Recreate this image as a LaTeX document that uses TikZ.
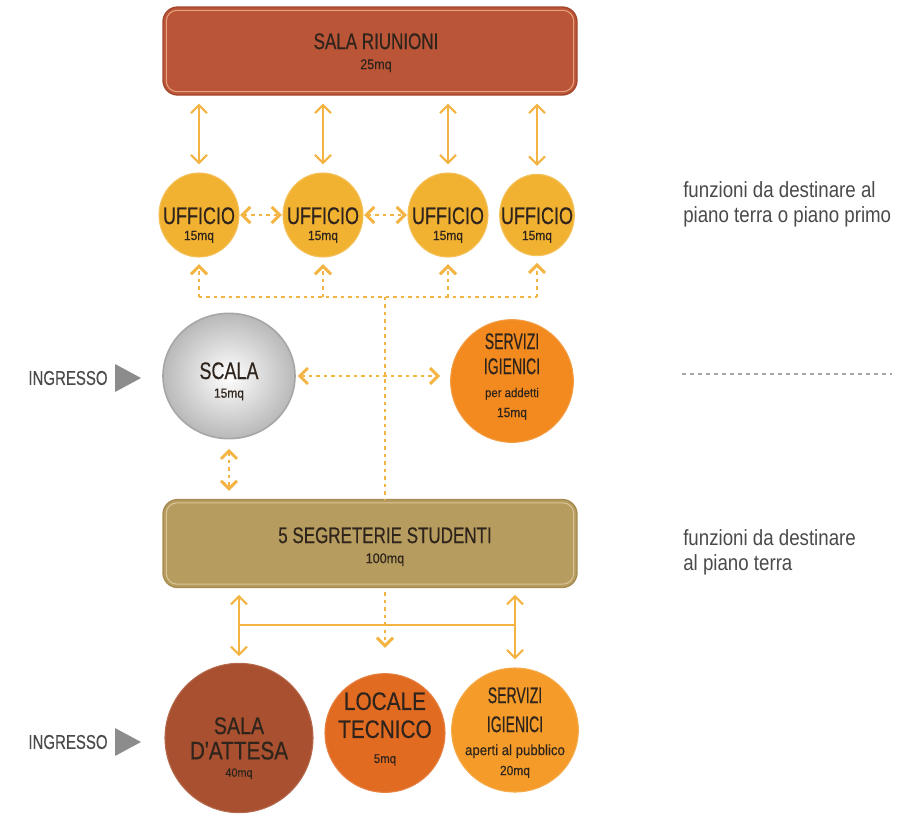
\documentclass[tikz,border=0pt]{standalone}
\usepackage{fontspec}
\setmainfont{Liberation Sans}
\newfontfamily\cond[FakeStretch=0.75,FakeBold=0.35]{Liberation Sans}
\newfontfamily\xcond[FakeStretch=0.62,FakeBold=0.4]{Liberation Sans}
\newfontfamily\condB[FakeStretch=0.82,FakeBold=0.35]{Liberation Sans}
\newfontfamily\smf[FakeStretch=0.9,FakeBold=0.25]{Liberation Sans}
\newfontfamily\sidef[FakeStretch=0.85]{Liberation Sans}
\usetikzlibrary{shapes.geometric,arrows.meta}
\definecolor{riun}{HTML}{BA5538}
\definecolor{riund}{HTML}{A4472D}
\definecolor{riunl}{HTML}{E9A27F}
\definecolor{segr}{HTML}{B69C5F}
\definecolor{segrd}{HTML}{A68B50}
\definecolor{segrl}{HTML}{D8C496}
\definecolor{uff}{HTML}{F1B232}
\definecolor{arr}{HTML}{F3B443}
\definecolor{servA}{HTML}{F28A1F}
\definecolor{attesa}{HTML}{A8502F}
\definecolor{tecn}{HTML}{E26B22}
\definecolor{servP}{HTML}{F49B2A}
\definecolor{ink}{HTML}{2E241C}
\definecolor{sidetxt}{HTML}{4A4A4A}
\definecolor{tri}{HTML}{8C8C8C}
\newcommand\fA[1]{\cond\fontsize{#1}{0pt}\selectfont}
\newcommand\fX[1]{\xcond\fontsize{#1}{0pt}\selectfont}
\newcommand\fB[1]{\condB\fontsize{#1}{0pt}\selectfont}
\newcommand\fS[1]{\smf\fontsize{#1}{0pt}\selectfont}
\begin{document}
\lineskiplimit=-1000pt\lineskip=0pt
\begin{tikzpicture}[x=0.75pt,y=-0.75pt,
  >={Straight Barb[length=6pt,width=12pt]},
  bigbox/.style={rectangle, rounded corners=11pt, minimum width=310.5pt, minimum height=66pt,
    inner sep=0pt, line width=1pt},
  room/.style={ellipse, inner sep=0pt, line width=0.8pt},
  lbl/.style={align=center, text=ink, inner sep=0pt, anchor=north, font=\fontsize{10}{0pt}\selectfont},
  solidarr/.style={draw=arr, line width=1.6pt, <->},
  solidline/.style={draw=arr, line width=1.6pt},
  dotline/.style={draw=arr, line width=2.2pt, dash pattern=on 2.6pt off 3pt},
  dotarr/.style={dotline, <->},
  dotup/.style={dotline, ->},
  ingr/.style={text=sidetxt, font=\fA{15}},
  sidenote/.style={text=sidetxt, align=left, anchor=north west, inner sep=0pt,
    font=\sidef\fontsize{16.5}{0pt}\selectfont},
  trishape/.style={fill=tri, draw=none}
]
\useasboundingbox (0,0) rectangle (900,815);

% ---------- top box
\node[bigbox, fill=riun, draw=riund] (sr) at (370,51) {};
\draw[riunl, line width=0.8pt, rounded corners=8pt]
  ([xshift=3pt,yshift=-3pt]sr.north west) rectangle ([xshift=-3pt,yshift=3pt]sr.south east);
\node[lbl] (srt) at (376,33) {\fA{17}SALA RIUNIONI\\[15pt]\fS{10.5}25mq};

% ---------- offices
\node[room, fill=uff, draw=uff!80!white, minimum width=60pt, minimum height=63pt] (u1) at (199,215) {};
\node[room, fill=uff, draw=uff!80!white, minimum width=60pt, minimum height=63pt] (u2) at (323,215) {};
\node[room, fill=uff, draw=uff!80!white, minimum width=60pt, minimum height=63pt] (u3) at (448,215) {};
\node[room, fill=uff, draw=uff!80!white, minimum width=56pt, minimum height=61pt] (u4) at (537,215) {};
\node[lbl] (u1t) at (199,207) {\fA{18}UFFICIO\\[12pt]\fS{10}15mq};
\node[lbl] (u2t) at (323,207) {\fA{18}UFFICIO\\[12pt]\fS{10}15mq};
\node[lbl] (u3t) at (448,207) {\fA{18}UFFICIO\\[12pt]\fS{10}15mq};
\node[lbl] (u4t) at (537,207) {\fA{18}UFFICIO\\[12pt]\fS{10}15mq};

\foreach \u in {u1,u2,u3,u4}
  \draw[solidarr, shorten <=6pt, shorten >=6pt] (sr.south -| \u) -- (\u.north);

\draw[dotarr, shorten <=0.5pt, shorten >=0.5pt] (u1.east) -- (u2.west);
\draw[dotarr, shorten <=0.5pt, shorten >=0.5pt] (u2.east) -- (u3.west);

% dotted distribution line
\coordinate (hb) at (385,297);
\draw[dotline] (hb -| u1) -- (hb -| u4);
\foreach \u in {u1,u2,u3,u4}
  \draw[dotup, shorten >=5pt] (hb -| \u) -- (\u.south);

% ---------- middle row
\shade[inner color=white, outer color=gray!55] (229,376) ellipse [x radius=66, y radius=62.5];
\node[room, draw=gray!70, line width=1.2pt, minimum width=99pt, minimum height=94pt] (sc) at (229,376) {};
\node[lbl] (sct) at (229,362) {\fA{18}SCALA\\[14pt]\fS{10}15mq};
\node[room, fill=servA, draw=servA!85!white, minimum width=92pt, minimum height=92pt] (sv) at (512,381) {};
\node[lbl] (svt) at (512,333) {\fX{17}SERVIZI\\[18.75pt]\fX{17}IGIENICI\\[17.25pt]\fS{9.5}per addetti\\[15pt]\fS{10}15mq};

\draw[dotarr, shorten <=1.5pt, shorten >=7.5pt] (sc.east) -- (sc.east -| sv.west);

\node[ingr] (in1) at (68,378) {INGRESSO};
\path[trishape] (115,364) -- (141,378) -- (115,392) -- cycle;

% ---------- segreterie
\node[bigbox, fill=segr, draw=segrd] (sg) at (370,543.5) {};
\draw[segrl, line width=0.8pt, rounded corners=8pt]
  ([xshift=3pt,yshift=-3pt]sg.north west) rectangle ([xshift=-3pt,yshift=3pt]sg.south east);
\node[lbl] (sgt) at (385,527) {\fA{17}5 SEGRETERIE STUDENTI\\[15pt]\fS{10.5}100mq};

\draw[dotline] (hb) -- (hb |- sg.north);
\draw[dotarr, shorten <=7pt, shorten >=6pt] (sc.south) -- (sc.south |- sg.north);

% ---------- bottom row
\node[room, fill=attesa, draw=attesa!85!white, minimum width=111pt, minimum height=112pt] (sa) at (239,738) {};
\node[lbl] (sat) at (239,717) {\fB{18}SALA\\[19pt]\fB{19}D'ATTESA\\[13pt]\fS{9}40mq};
\node[room, fill=tecn, draw=tecn!85!white, minimum width=90pt, minimum height=89pt] (lt) at (385,733) {};
\node[lbl] (ltt) at (385,692) {\fB{19}LOCALE\\[21pt]\fB{19}TECNICO\\[18.75pt]\fS{9.5}5mq};
\node[room, fill=servP, draw=servP!85!white, minimum width=95pt, minimum height=93pt] (sp) at (515,730) {};
\node[lbl] (spt) at (515,687) {\fX{17}SERVIZI\\[21.75pt]\fX{17}IGIENICI\\[17.25pt]\fS{11}aperti al pubblico\\[15pt]\fS{10}20mq};

\draw[solidarr, shorten <=5pt, shorten >=5pt] (sg.south -| sa) -- (sa.north);
\draw[solidarr, shorten <=5pt, shorten >=6pt] (sg.south -| sp) -- (sp.north);
\coordinate (hl) at (385,625);
\draw[solidline] (hl -| sa) -- (hl -| sp);
\draw[dotup, shorten <=3pt, shorten >=19pt] (sg.south -| lt) -- (lt.north);

\node[ingr] (in2) at (68,742) {INGRESSO};
\path[trishape] (115,728) -- (141,742) -- (115,756) -- cycle;

% ---------- side notes
\node[sidenote] (n1) at (683,181) {funzioni da destinare al\\[18.75pt]piano terra o piano primo};
\coordinate (dl1) at (682,374);
\coordinate (dl2) at (892,374);
\draw[gray!70, line width=1.5pt, dash pattern=on 3pt off 3pt] (dl1) -- (dl2);
\node[sidenote] (n2) at (683,529) {funzioni da destinare\\[18.75pt]al piano terra};
\end{tikzpicture}
\end{document}
